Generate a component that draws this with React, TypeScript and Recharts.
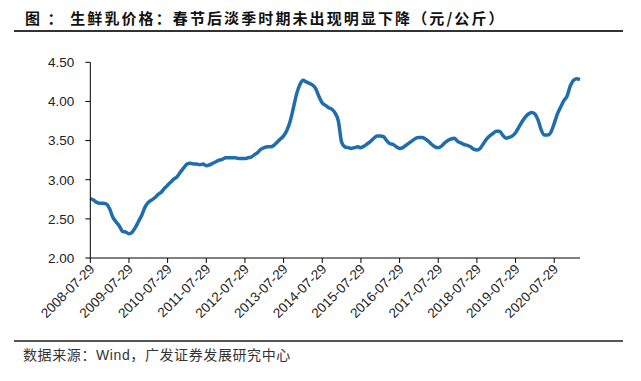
import React from 'react';
import { LineChart, Line, XAxis, YAxis } from 'recharts';

// monthly raw milk price, 2008-07 .. 2021-03 (yuan/kg)
const priceValues = [
  2.76, 2.74, 2.71, 2.70, 2.70, 2.69, 2.63, 2.52, 2.46, 2.41, 2.34, 2.33,
  2.31, 2.33, 2.39, 2.47, 2.55, 2.65, 2.71, 2.74, 2.77, 2.81, 2.84, 2.89,
  2.93, 2.97, 3.01, 3.04, 3.10, 3.15, 3.20, 3.21, 3.20, 3.20, 3.19, 3.20,
  3.18, 3.19, 3.21, 3.23, 3.25, 3.26, 3.28, 3.28, 3.28, 3.28, 3.27, 3.27,
  3.27, 3.28, 3.29, 3.32, 3.35, 3.39, 3.41, 3.42, 3.42, 3.44, 3.48, 3.52,
  3.56, 3.63, 3.74, 3.91, 4.09, 4.21, 4.27, 4.25, 4.23, 4.21, 4.16, 4.06,
  3.98, 3.95, 3.92, 3.90, 3.85, 3.75, 3.48, 3.42, 3.41, 3.40, 3.41, 3.42,
  3.41, 3.43, 3.46, 3.49, 3.53, 3.56, 3.56, 3.55, 3.50, 3.46, 3.45, 3.42,
  3.40, 3.41, 3.44, 3.47, 3.50, 3.53, 3.54, 3.54, 3.52, 3.49, 3.45, 3.42,
  3.41, 3.43, 3.47, 3.50, 3.52, 3.53, 3.49, 3.47, 3.45, 3.44, 3.42, 3.39,
  3.38, 3.40, 3.46, 3.52, 3.56, 3.59, 3.62, 3.62, 3.57, 3.53, 3.54, 3.56,
  3.60, 3.67, 3.74, 3.80, 3.84, 3.86, 3.84, 3.76, 3.63, 3.57, 3.57, 3.61,
  3.72, 3.84, 3.93, 4.01, 4.07, 4.20, 4.27, 4.29, 4.28,
];

const yTicks = [2.0, 2.5, 3.0, 3.5, 4.0, 4.5];

const dates: string[] = [];
for (let i = 0; i < priceValues.length; i++) {
  const year = 2008 + Math.floor((6 + i) / 12);
  const month = ((6 + i) % 12) + 1;
  dates.push(`${year}-${String(month).padStart(2, '0')}-29`);
}

const data = dates.map((date, i) => ({ date, price: priceValues[i] }));

const titleText = '图 ： 生鲜乳价格：春节后淡季时期未出现明显下降（元/公斤）';
const sourceText = '数据来源：Wind，广发证券发展研究中心';

const axisFont = '"Liberation Sans", Arial, sans-serif';

function DateTick({ x, y, payload }: any) {
  return (
    <g transform={`translate(${x},${y})`}>
      <text
        x={0}
        y={0}
        dy={7}
        textAnchor="end"
        transform="rotate(-45)"
        fontSize={13.5}
        fontFamily={axisFont}
        fill="#222"
      >
        {payload.value}
      </text>
    </g>
  );
}

export default function App() {
  return (
    <div style={{ position: 'absolute', left: 0, top: 0, width: 641, height: 381, background: '#fff' }}>
      <LineChart
        width={641}
        height={381}
        data={data}
        margin={{ top: 62.3, right: 61, bottom: 63, left: 40.3 }}
        style={{ position: 'absolute', left: 0, top: 0 }}
      >
        <XAxis
          dataKey="date"
          interval={11}
          height={60}
          tickSize={5}
          tickMargin={2}
          axisLine={{ stroke: '#000' }}
          tickLine={{ stroke: '#000' }}
          tick={<DateTick />}
        />
        <YAxis
          width={50}
          domain={[2, 4.5]}
          ticks={yTicks}
          tickSize={5}
          tickMargin={11}
          axisLine={{ stroke: '#000' }}
          tickLine={{ stroke: '#000' }}
          tickFormatter={(v: number) => v.toFixed(2)}
          tick={{ fontSize: 13.5, fontFamily: axisFont, fill: '#222' }}
          allowDataOverflow
        />
        <Line
          type="monotone"
          dataKey="price"
          stroke="#1f6dad"
          strokeWidth={3.5}
          dot={false}
          isAnimationActive={false}
        />
      </LineChart>

      <div
        style={{
          position: 'absolute',
          left: 25,
          top: 10,
          fontSize: 15,
          lineHeight: '16px',
          fontWeight: 'bold',
          letterSpacing: 2.1,
          fontFamily: '"Noto Sans CJK SC", sans-serif',
          color: '#111',
          whiteSpace: 'pre',
        }}
      >
        {titleText}
      </div>
      <div style={{ position: 'absolute', left: 14, top: 30, width: 609, height: 1.5, background: '#333' }} />
      <div style={{ position: 'absolute', left: 14, top: 340, width: 609, height: 1.5, background: '#555' }} />
      <div
        style={{
          position: 'absolute',
          left: 23,
          top: 347,
          fontSize: 14,
          lineHeight: '16px',
          letterSpacing: 0.6,
          fontFamily: '"Liberation Sans", "Noto Sans CJK SC", sans-serif',
          color: '#333',
          whiteSpace: 'nowrap',
        }}
      >
        {sourceText}
      </div>
    </div>
  );
}
